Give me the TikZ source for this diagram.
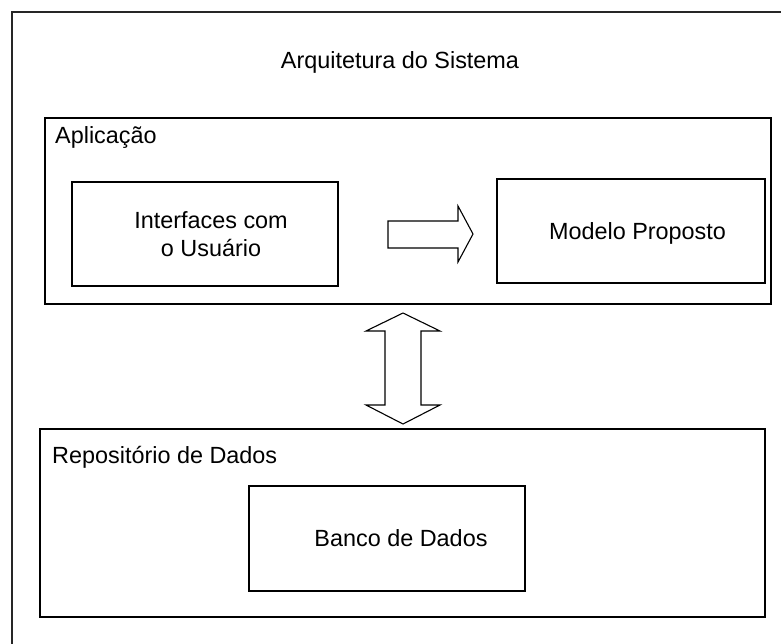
\documentclass[tikz,border=0pt]{standalone}
\usepackage{fontspec}
\setmainfont{Liberation Sans}
\begin{document}
\begin{tikzpicture}[x=1pt,y=-1pt,
  box/.style={draw=black,line width=1.1pt,inner sep=0pt,fill=white},
  lbl/.style={inner sep=0pt,font=\fontsize{23.4}{28}\selectfont},
  blockarrow/.style={draw=black,line width=1.1pt,fill=white,line join=miter}]
\useasboundingbox (0,0) rectangle (781,643);
\clip (0,0) rectangle (781,643);
\fill[white] (0,0) rectangle (781,643);
% outer frame (runs off the page to the right and bottom)
\draw[line width=1.6pt,draw=black!85] (12,700) -- (12,12) -- (820,12);
\node[lbl] (title) at (400,62) {Arquitetura do Sistema};
% Aplicacao
\node[box,minimum width=726pt,minimum height=186pt] (app) at (408,211) {};
\node[lbl,anchor=west] (applbl) at (55,137) {Aplicação};
\node[box,minimum width=266pt,minimum height=104pt] (ui) at (205,234) {};
\node[lbl,align=center] (uitxt) at (211,234) {Interfaces com\\o Usuário};
\node[box,minimum width=268pt,minimum height=104pt] (model) at (631,231) {};
\node[lbl] (modeltxt) at (637.5,233) {Modelo Proposto};
% Repositorio
\node[box,minimum width=725pt,minimum height=188pt] (repo) at (402.5,523) {};
\node[lbl,anchor=west] (repolbl) at (52,457) {Repositório de Dados};
\node[box,minimum width=276pt,minimum height=105pt] (db) at (387,538.5) {};
\node[lbl] (dbtxt) at (401,538) {Banco de Dados};
% block arrow between ui and model
\draw[blockarrow] (388,221) -- (458,221) -- (458,206) -- (473,234) -- (458,262)
  -- (458,248) -- (388,248) -- cycle;
% double block arrow between app and repo
\draw[blockarrow] (403,313) -- (440,331) -- (421,331) -- (421,405) -- (440,405)
  -- (403,424) -- (366,405) -- (385,405) -- (385,331) -- (366,331) -- cycle;
\end{tikzpicture}
\end{document}
